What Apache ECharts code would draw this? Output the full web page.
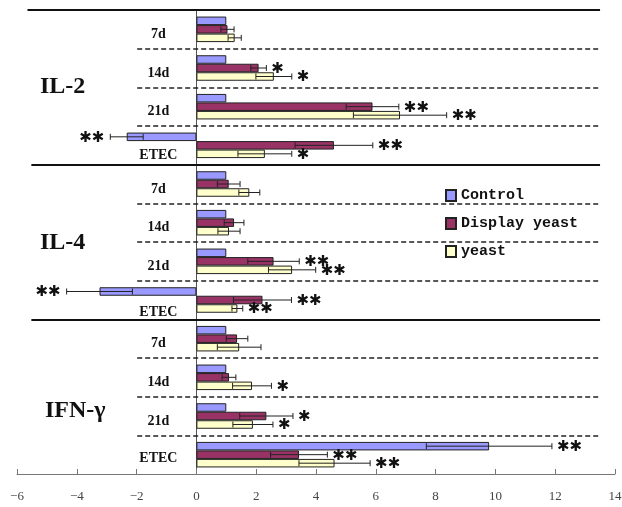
<!DOCTYPE html>
<html><head><meta charset="utf-8">
<script src="https://cdn.jsdelivr.net/npm/echarts@6/dist/echarts.min.js"></script>
<style>html,body{margin:0;padding:0;background:#fff}#c{width:622px;height:507px}</style>
</head><body><div id="c"></div>
<script>
// ---- data ----
var categories = ['7d','14d','21d','ETEC','7d','14d','21d','ETEC','7d','14d','21d','ETEC'];
var sections = ['IL-2','IL-4','IFN-γ'];
var seriesNames = ['Control','Display yeast','yeast'];
var controlVals = [1,1,1,-2.33, 1,1,1,-3.24, 1,1,1,9.79];
var controlErr  = [0,0,0,0.55, 0,0,0,1.1, 0,0,0,2.1];
var controlSig  = ['','','','**', '','','','**', '','','','**'];
var displayVals = [1.04,2.08,5.89,4.6, 1.08,1.26,2.58,2.21, 1.36,1.09,2.34,3.43];
var displayErr  = [0.22,0.26,0.88,1.3, 0.38,0.33,0.86,0.97, 0.36,0.23,0.89,0.95];
var displaySig  = ['','*','**','**', '','','**','**', '','','*','**'];
var yeastVals   = [1.28,2.59,6.81,2.29, 1.77,1.09,3.2,1.37, 1.43,1.86,1.89,4.62];
var yeastErr    = [0.22,0.6,1.56,0.9, 0.35,0.37,0.79,0.18, 0.73,0.65,0.67,1.19];
var yeastSig    = ['','*','**','*', '','','**','**', '','*','*','**'];
var xTicks = {min:-6, max:14, interval:2};

// ---- chart ----
var chart = echarts.init(document.getElementById('c'));
var colors = ['#9999FF','#993366','#FFFFCC'];
var BW = 0.22;
var vals = [controlVals, displayVals, yeastVals];
var errs = [controlErr, displayErr, yeastErr];
var sigs = [controlSig, displaySig, yeastSig];

function makeRender(k){
  return function(params, api){
    var v = api.value(0), c = api.value(1), e = api.value(2);
    var sig = sigs[k][params.dataIndex];
    var band = api.size([0,1])[1];
    var bh = band*BW;
    var p = api.coord([v, c]);
    var y = p[1] + (k-1)*bh;
    var children = [];
    var style = {stroke:'#222', lineWidth:1};
    var x1, x2;
    if (e > 0) {
      x1 = api.coord([v-e, c])[0]; x2 = api.coord([v+e, c])[0];
      children.push({type:'line', shape:{x1:x1,y1:y,x2:x2,y2:y}, style:style});
      children.push({type:'line', shape:{x1:x1,y1:y-3,x2:x1,y2:y+3}, style:style});
      children.push({type:'line', shape:{x1:x2,y1:y-3,x2:x2,y2:y+3}, style:style});
    } else { x1 = x2 = p[0]; }
    if (sig) {
      var neg = v < 0;
      children.push({type:'text', style:{
        text: sig.replace(/\*/g,'✱'), x: neg ? x1-6 : x2+5, y: y+1,
        align: neg ? 'right' : 'left', verticalAlign:'middle',
        font:'bold 15px "DejaVu Sans"', fill:'#111'
      }});
    }
    return {type:'group', children:children};
  };
}

var labelShift = {3:10, 7:12, 11:4};
function renderCatLabel(params, api){
  var i = api.value(0);
  var p = api.coord([0, i]);
  var s = labelShift[i] !== undefined ? labelShift[i] : 5;
  return {type:'text', style:{text:categories[i], x:p[0]-38, y:p[1]+s, align:'center', verticalAlign:'middle',
    font:'bold 14px "Liberation Serif"', fill:'#111'}};
}

var series = [];
for (var k=0;k<3;k++){
  series.push({
    name: seriesNames[k], type:'bar', barWidth: (BW*100)+'%', barGap:'0%',
    data: vals[k], itemStyle:{color:colors[k], borderColor:'#222', borderWidth:1},
    z:2
  });
}
for (var k2=0;k2<3;k2++){
  series.push({
    type:'custom', renderItem: makeRender(k2), z:5, silent:true,
    encode:{x:0, y:1},
    data: vals[k2].map(function(v,i){ return [v, i, errs[k2][i]]; })
  });
}
series.push({
  type:'custom', renderItem: renderCatLabel, z:5, silent:true,
  encode:{y:0}, data: categories.map(function(c,i){ return [i]; })
});
// separators on a hidden value axis aligned with the category bands
var solid = [0,4,8], dashed = [1,2,3,5,6,7,9,10,11];
var ml = [];
solid.forEach(function(b){ ml.push([{coord:[b===0?-5.65:-5.52, b], lineStyle:{type:'solid', width:2, color:'#111'}},{coord:[13.5, b]}]); });
dashed.forEach(function(b){ ml.push([{coord:[-1.98, b], lineStyle:{type:[5,3], width:1.5, color:'#222'}},{coord:[13.45, b]}]); });
series.push({
  type:'line', yAxisIndex:1, data:[], silent:true,
  markLine:{silent:true, symbol:'none', label:{show:false}, animation:false, data:ml}
});

chart.setOption({
  animation:false,
  grid:{left:17, right:7, top:10, bottom:33, containLabel:false, outerBoundsMode:'none'},
  legend:{
    data:seriesNames, orient:'vertical', left:440, top:183, itemWidth:10, itemHeight:11, itemGap:13,
    icon:'rect',
    textStyle:{fontFamily:'Liberation Mono', fontSize:15, fontWeight:'bold', color:'#111'}
  },
  xAxis:{
    type:'value', min:xTicks.min, max:xTicks.max, interval:xTicks.interval,
    axisLine:{onZero:false, lineStyle:{color:'#777'}},
    axisTick:{inside:true, length:5, lineStyle:{color:'#777'}},
    splitLine:{show:false},
    axisLabel:{margin:16, fontFamily:'Liberation Serif', fontSize:13, color:'#444',
      formatter:function(v){ return String(v).replace('-', '−'); }}
  },
  yAxis:[{
    type:'category', inverse:true, data:categories,
    axisLine:{onZero:true, lineStyle:{color:'#555', width:1}},
    axisTick:{show:false},
    axisLabel:{show:false}
  },{
    type:'value', min:0, max:12, inverse:true, show:false
  }],
  graphic:[
    {type:'text', left:40, top:75, style:{text:sections[0], font:'bold 24px "Liberation Serif"', fill:'#111'}},
    {type:'text', left:40, top:231, style:{text:sections[1], font:'bold 24px "Liberation Serif"', fill:'#111'}},
    {type:'text', left:45, top:399, style:{text:sections[2], font:'bold 24px "Liberation Serif"', fill:'#111'}}
  ],
  series:series
});
</script></body></html>
